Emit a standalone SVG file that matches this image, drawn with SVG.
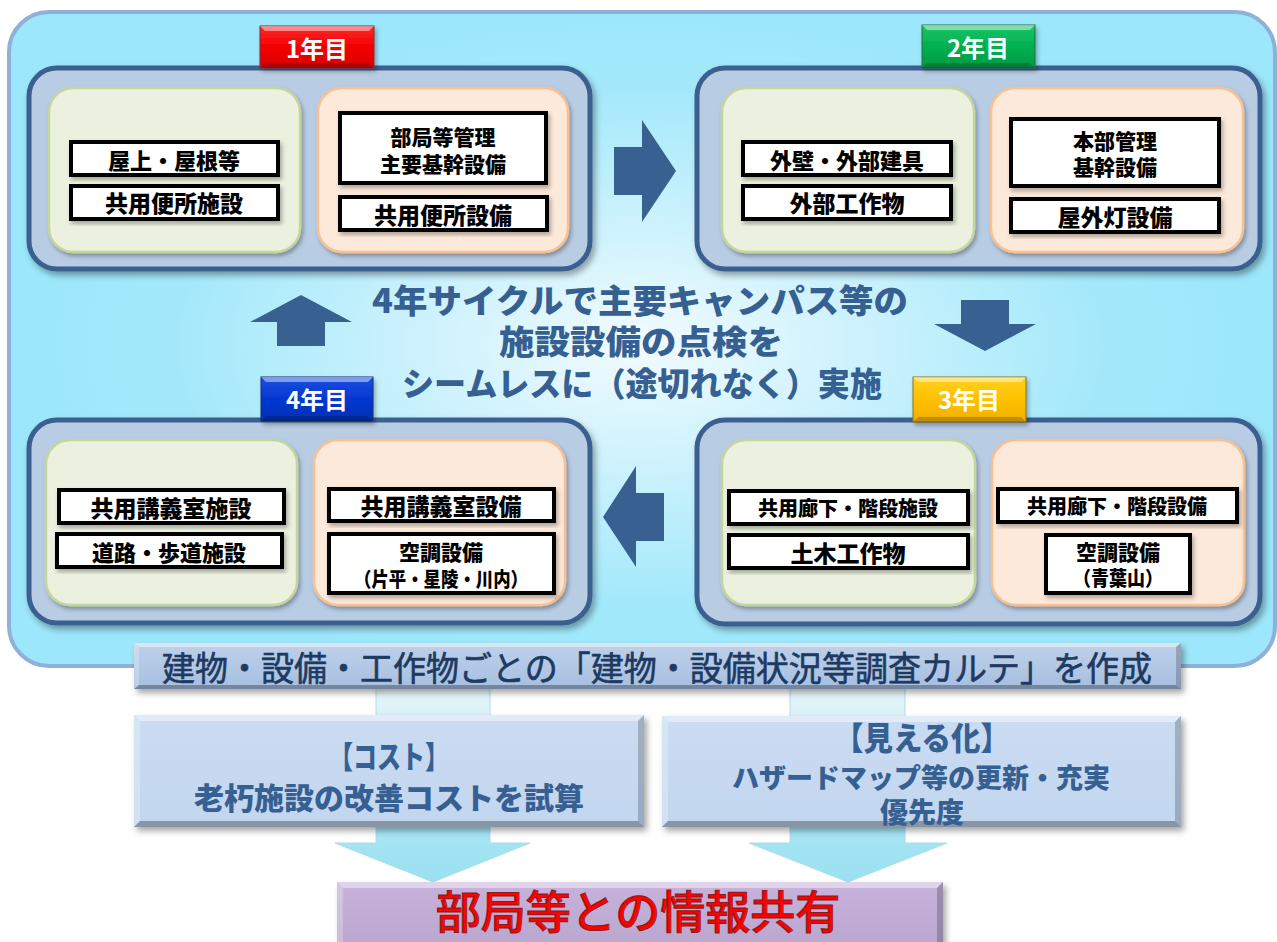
<svg xmlns="http://www.w3.org/2000/svg" width="1277" height="942" viewBox="0 0 1277 942">
<defs>
<radialGradient id="bgGrad" cx="640" cy="345" r="620" gradientUnits="userSpaceOnUse" gradientTransform="translate(640 345) scale(1 0.55) translate(-640 -345)">
<stop offset="0" stop-color="#f2fbfe"/>
<stop offset="0.35" stop-color="#cdf2fd"/>
<stop offset="0.75" stop-color="#a4e9fb"/>
<stop offset="1" stop-color="#9ce7fb"/>
</radialGradient>
<linearGradient id="cyanArrow" x1="0" y1="688" x2="0" y2="882" gradientUnits="userSpaceOnUse">
<stop offset="0" stop-color="#e8f6f9"/>
<stop offset="0.2" stop-color="#d4eff6"/>
<stop offset="0.75" stop-color="#a5e4f3"/>
<stop offset="1" stop-color="#9be1f2"/>
</linearGradient>
<linearGradient id="bandGrad" x1="0" y1="0" x2="0" y2="1">
<stop offset="0" stop-color="#bed1ea"/>
<stop offset="1" stop-color="#a6bfe0"/>
</linearGradient>
<linearGradient id="boxGrad" x1="0" y1="0" x2="0" y2="1">
<stop offset="0" stop-color="#cadcf2"/>
<stop offset="1" stop-color="#c2d6ef"/>
</linearGradient>
<linearGradient id="purpleGrad" x1="0" y1="0" x2="0" y2="1">
<stop offset="0" stop-color="#c6b2da"/>
<stop offset="1" stop-color="#b9a5ce"/>
</linearGradient>
<linearGradient id="redGrad" x1="0" y1="0" x2="0" y2="1">
<stop offset="0" stop-color="#ff2a2a"/>
<stop offset="0.5" stop-color="#f20000"/>
<stop offset="1" stop-color="#d80000"/>
</linearGradient>
<linearGradient id="greenGrad" x1="0" y1="0" x2="0" y2="1">
<stop offset="0" stop-color="#19c566"/>
<stop offset="0.5" stop-color="#00b050"/>
<stop offset="1" stop-color="#009a44"/>
</linearGradient>
<linearGradient id="blueGrad" x1="0" y1="0" x2="0" y2="1">
<stop offset="0" stop-color="#1a4fe0"/>
<stop offset="0.5" stop-color="#0438d0"/>
<stop offset="1" stop-color="#002fb4"/>
</linearGradient>
<linearGradient id="yellowGrad" x1="0" y1="0" x2="0" y2="1">
<stop offset="0" stop-color="#ffd21f"/>
<stop offset="0.5" stop-color="#ffc000"/>
<stop offset="1" stop-color="#f0ae00"/>
</linearGradient>
<filter id="shadow" x="-10%" y="-10%" width="125%" height="130%">
<feDropShadow dx="3" dy="4" stdDeviation="3" flood-color="#000" flood-opacity="0.35"/>
</filter>
<filter id="shadowS" x="-10%" y="-10%" width="125%" height="130%">
<feDropShadow dx="2" dy="3" stdDeviation="2" flood-color="#000" flood-opacity="0.3"/>
</filter>
<style>
.panel{fill:#b8cce4;stroke:#3a6190;stroke-width:5;filter:url(#shadow)}
.green{fill:#ebf1de;stroke:#c3d69b;stroke-width:2.5;filter:url(#shadowS)}
.peach{fill:#fde9d9;stroke:#fac090;stroke-width:2.5;filter:url(#shadowS)}
.tb{fill:#ffffff;stroke:#000000;stroke-width:4;filter:url(#shadowS)}
.t{font-family:"Noto Sans CJK JP","Noto Sans CJK SC",sans-serif;font-weight:900;fill:#000000;text-anchor:middle}
.lab{font-family:"Noto Sans CJK JP","Noto Sans CJK SC",sans-serif;font-weight:700;fill:#ffffff;font-size:24px;text-anchor:middle}
.ct{font-family:"Noto Sans CJK JP","Noto Sans CJK SC",sans-serif;font-weight:900;fill:#376092;font-size:33px;text-anchor:middle}
.bt{font-family:"Noto Sans CJK JP","Noto Sans CJK SC",sans-serif;font-weight:900;fill:#376092;text-anchor:middle}
.arr{fill:#386192}
.hl{fill:#ffffff;opacity:0.45}
.hl2{fill:#ffffff;opacity:0.25}
.dk{fill:#000000;opacity:0.2}
.dk2{fill:#000000;opacity:0.3}
</style>
</defs>

<g id="background">
<rect x="9" y="12" width="1266" height="654" rx="40" ry="40" fill="url(#bgGrad)" stroke="#8fb0d8" stroke-width="4"/>
</g>

<g id="connectors">
<polygon id="arrow-1-2" class="arr" points="614,147 642,147 642,120 676,171 642,222 642,195 614,195"/>
<polygon id="arrow-2-3" class="arr" points="961,300 1009,300 1009,324 1036,324 985,351 934,324 961,324"/>
<polygon id="arrow-3-4" class="arr" points="664,493 636,493 636,466 603,517 636,567 636,541 664,541"/>
<polygon id="arrow-4-1" class="arr" points="277,346 325,346 325,322 352,322 301,295 250,322 277,322"/>
<polygon id="arrow-cost" points="376,688 490,688 490,843 530,843 433,882 335,843 376,843" fill="url(#cyanArrow)" stroke="#acdce8" stroke-width="1"/>
<polygon id="arrow-visual" points="790,688 905,688 905,843 947,843 848,882 749,843 790,843" fill="url(#cyanArrow)" stroke="#acdce8" stroke-width="1"/>
</g>

<g id="center-text">
<text class="ct" x="640" y="313" textLength="536" lengthAdjust="spacingAndGlyphs">4年サイクルで主要キャンパス等の</text>
<text class="ct" x="641" y="354" textLength="284" lengthAdjust="spacingAndGlyphs">施設設備の点検を</text>
<text class="ct" x="642" y="396" textLength="480" lengthAdjust="spacingAndGlyphs">シームレスに（途切れなく）実施</text>
</g>

<g id="year1">
<rect class="panel" x="29" y="68" width="561" height="201" rx="28"/>
<rect class="green" x="49" y="88" width="251" height="164" rx="24"/>
<rect class="peach" x="318" y="88" width="250" height="164" rx="24"/>
<rect class="tb" x="71" y="142" width="207" height="33"/>
<text class="t" x="174" y="169" font-size="22">屋上・屋根等</text>
<rect class="tb" x="71" y="186" width="207" height="33"/>
<text class="t" x="174" y="212" font-size="23">共用便所施設</text>
<rect class="tb" x="340" y="113" width="206" height="70"/>
<text class="t" x="443" y="145" font-size="21">部局等管理</text>
<text class="t" x="443" y="172" font-size="21">主要基幹設備</text>
<rect class="tb" x="340" y="197" width="207" height="33"/>
<text class="t" x="443" y="224" font-size="23">共用便所設備</text>
<g id="label1">
<rect x="260" y="26" width="114" height="42" fill="url(#redGrad)" stroke="#7a3040" stroke-width="1" filter="url(#shadowS)"/>
<polygon class="hl" points="260,26 374,26 369,31 265,31"/>
<polygon class="dk" points="260,68 374,68 369,63 265,63"/>
<text class="lab" x="317" y="58">1年目</text>
</g>
</g>

<g id="year2">
<rect class="panel" x="697" y="68" width="563" height="201" rx="28"/>
<rect class="green" x="722" y="88" width="252" height="164" rx="24"/>
<rect class="peach" x="991" y="88" width="252" height="164" rx="24"/>
<rect class="tb" x="743" y="142" width="208" height="33"/>
<text class="t" x="847" y="169" font-size="22">外壁・外部建具</text>
<rect class="tb" x="743" y="186" width="208" height="33"/>
<text class="t" x="847" y="212" font-size="23">外部工作物</text>
<rect class="tb" x="1011" y="119" width="208" height="67"/>
<text class="t" x="1115" y="149" font-size="21">本部管理</text>
<text class="t" x="1115" y="175" font-size="21">基幹設備</text>
<rect class="tb" x="1011" y="199" width="208" height="33"/>
<text class="t" x="1115" y="226" font-size="23">屋外灯設備</text>
<g id="label2">
<rect x="922" y="25" width="113" height="43" fill="url(#greenGrad)" stroke="#2e6a45" stroke-width="1" filter="url(#shadowS)"/>
<polygon class="hl" points="922,25 1035,25 1030,30 927,30"/>
<polygon class="dk" points="922,68 1035,68 1030,63 927,63"/>
<text class="lab" x="978" y="57">2年目</text>
</g>
</g>

<g id="year4">
<rect class="panel" x="29" y="420" width="561" height="203" rx="28"/>
<rect class="green" x="46" y="440" width="251" height="165" rx="24"/>
<rect class="peach" x="314" y="440" width="251" height="165" rx="24"/>
<rect class="tb" x="59" y="490" width="225" height="33"/>
<text class="t" x="171" y="517" font-size="23">共用講義室施設</text>
<rect class="tb" x="57" y="534" width="225" height="33"/>
<text class="t" x="169" y="561" font-size="22">道路・歩道施設</text>
<rect class="tb" x="329" y="489" width="225" height="32"/>
<text class="t" x="441" y="515" font-size="23">共用講義室設備</text>
<rect class="tb" x="329" y="534" width="225" height="59"/>
<text class="t" x="441" y="560" font-size="21">空調設備</text>
<text class="t" x="441" y="587" font-size="20" textLength="174" lengthAdjust="spacingAndGlyphs">（片平・星陵・川内）</text>
<g id="label4">
<rect x="261" y="377" width="112" height="44" fill="url(#blueGrad)" stroke="#1b2f70" stroke-width="1" filter="url(#shadowS)"/>
<polygon class="hl" points="261,377 373,377 368,382 266,382"/>
<polygon class="dk" points="261,421 373,421 368,416 266,416"/>
<text class="lab" x="317" y="409">4年目</text>
</g>
</g>

<g id="year3">
<rect class="panel" x="697" y="420" width="563" height="204" rx="28"/>
<rect class="green" x="722" y="440" width="253" height="165" rx="24"/>
<rect class="peach" x="992" y="440" width="252" height="165" rx="24"/>
<rect class="tb" x="729" y="491" width="239" height="33"/>
<text class="t" x="848" y="516" font-size="20">共用廊下・階段施設</text>
<rect class="tb" x="729" y="535" width="239" height="33"/>
<text class="t" x="848" y="562" font-size="23">土木工作物</text>
<rect class="tb" x="998" y="489" width="239" height="33"/>
<text class="t" x="1117" y="514" font-size="20">共用廊下・階段設備</text>
<rect class="tb" x="1046" y="535" width="144" height="58"/>
<text class="t" x="1118" y="560" font-size="21">空調設備</text>
<text class="t" x="1118" y="586" font-size="20" textLength="90" lengthAdjust="spacingAndGlyphs">（青葉山）</text>
<g id="label3">
<rect x="913" y="377" width="113" height="45" fill="url(#yellowGrad)" stroke="#8a7020" stroke-width="1" filter="url(#shadowS)"/>
<polygon class="hl" points="913,377 1026,377 1021,382 918,382"/>
<polygon class="dk" points="913,422 1026,422 1021,417 918,417"/>
<text class="lab" x="969" y="409">3年目</text>
</g>
</g>

<g id="karte-band">
<rect x="134" y="643" width="1047" height="46" fill="url(#bandGrad)" filter="url(#shadow)"/>
<polygon class="hl" points="134,643 1181,643 1176,647 139,647"/>
<polygon class="hl2" points="134,643 139,647 139,685 134,689"/>
<polygon class="dk" points="1181,643 1181,689 1176,685 1176,647"/>
<polygon class="dk2" points="134,689 1181,689 1176,685 139,685"/>
<text x="657" y="681" font-family="'Noto Sans CJK JP','Noto Sans CJK SC',sans-serif" font-size="34" font-weight="400" fill="#1f3a62" stroke="#1f3a62" stroke-width="0.6" text-anchor="middle" textLength="990" lengthAdjust="spacingAndGlyphs">建物・設備・工作物ごとの「建物・設備状況等調査カルテ」を作成</text>
</g>

<g id="cost-box">
<rect x="134" y="715" width="510" height="112" fill="url(#boxGrad)" filter="url(#shadow)"/>
<polygon class="hl" points="134,715 644,715 638,721 140,721"/>
<polygon class="hl2" points="134,715 140,721 140,821 134,827"/>
<polygon class="dk" points="644,715 644,827 638,821 638,721"/>
<polygon class="dk2" points="134,827 644,827 638,821 140,821"/>
<text class="bt" x="389" y="768" font-size="31" textLength="120" lengthAdjust="spacingAndGlyphs">【コスト】</text>
<text class="bt" x="389" y="809" font-size="30">老朽施設の改善コストを試算</text>
</g>

<g id="visual-box">
<rect x="662" y="716" width="519" height="111" fill="url(#boxGrad)" filter="url(#shadow)"/>
<polygon class="hl" points="662,716 1181,716 1175,722 668,722"/>
<polygon class="hl2" points="662,716 668,722 668,821 662,827"/>
<polygon class="dk" points="1181,716 1181,827 1175,821 1175,722"/>
<polygon class="dk2" points="662,827 1181,827 1175,821 668,821"/>
<text class="bt" x="922" y="750" font-size="32" textLength="176" lengthAdjust="spacingAndGlyphs">【見える化】</text>
<text class="bt" x="921" y="788" font-size="27">ハザードマップ等の更新・充実</text>
<text class="bt" x="922" y="823" font-size="28">優先度</text>
</g>

<g id="share-box">
<rect x="337" y="882" width="606" height="70" fill="url(#purpleGrad)" filter="url(#shadow)"/>
<polygon class="hl" points="337,882 943,882 937,888 343,888"/>
<polygon class="hl2" points="337,882 343,888 343,942 337,942"/>
<polygon class="dk" points="943,882 943,942 937,942 937,888"/>
<text x="638" y="929" font-family="'Noto Sans CJK JP','Noto Sans CJK SC',sans-serif" font-size="45" font-weight="500" fill="#ff0000" stroke="#8a1c1c" stroke-width="1" text-anchor="middle">部局等との情報共有</text>
</g>
</svg>
